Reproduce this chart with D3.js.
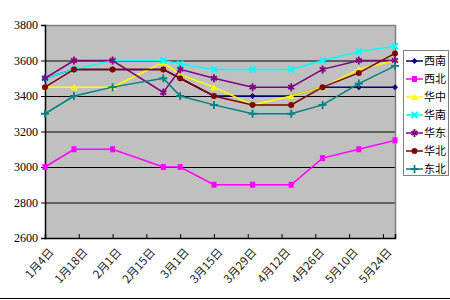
<!DOCTYPE html>
<html><head><meta charset="utf-8">
<script src="https://cdn.jsdelivr.net/npm/d3@7"></script>
<style>body{margin:0;background:#fff}svg{display:block}</style>
</head><body>
<svg id="c" width="450" height="300"></svg>
<script>
const dates = ["2007-01-04","2007-01-16","2007-02-01","2007-02-22","2007-03-01","2007-03-15","2007-03-31","2007-04-16","2007-04-29","2007-05-14","2007-05-29"];
const tickDates = ["2007-01-04","2007-01-18","2007-02-01","2007-02-15","2007-03-01","2007-03-15","2007-03-29","2007-04-12","2007-04-26","2007-05-10","2007-05-24"];
const tickLabels = ["1月4日","1月18日","2月1日","2月15日","3月1日","3月15日","3月29日","4月12日","4月26日","5月10日","5月24日"];
const yTicks = [2600,2800,3000,3200,3400,3600,3800];
const seriesNames = ["西南","西北","华中","华南","华东","华北","东北"];
const xinan  = [3500,3550,3550,3550,3500,3400,3400,3400,3450,3450,3450];
const xibei  = [3000,3100,3100,3000,3000,2900,2900,2900,3050,3100,3150];
const huazhong=[3450,3450,3450,3590,3520,3450,3350,3400,3450,3550,3600];
const huanan = [3500,3550,3600,3600,3580,3550,3550,3550,3600,3650,3680];
const huadong= [3500,3600,3600,3420,3550,3500,3450,3450,3550,3600,3600];
const huabei = [3450,3550,3550,3550,3500,3400,3350,3350,3450,3530,3640];
const dongbei= [3300,3400,3450,3500,3400,3350,3300,3300,3350,3470,3570];
const seriesValues = [xinan,xibei,huazhong,huanan,huadong,huabei,dongbei];
const colors = ["#000080","#FF00FF","#FFFF00","#00FFFF","#800080","#800000","#008080"];
const markers = ["diamond","square","triangle","x","star","circle","plus"];

const parse = d3.timeParse("%Y-%m-%d");
const svg = d3.select("#c");
const L=45, R=395, T=25, B=238;
const x = d3.scaleTime().domain([parse(dates[0]), parse(dates[dates.length-1])]).range([L,R]);
const y = d3.scaleLinear().domain([2600,3800]).range([B,T]);

svg.append("rect").attr("x",L).attr("y",T).attr("width",R-L).attr("height",B-T).attr("fill","#C0C0C0");
svg.append("g").selectAll("line").data(yTicks.slice(1,-1)).join("line")
  .attr("x1",L).attr("x2",R).attr("y1",d=>y(d)+0.5).attr("y2",d=>y(d)+0.5)
  .attr("stroke","#000").attr("stroke-width",1);
svg.append("path").attr("d",`M${L},${T+0.5}H${R+0.5}V${B}`).attr("fill","none").attr("stroke","#808080").attr("stroke-width",1.5);

const ya = svg.append("g").attr("transform",`translate(${L},0)`)
  .call(d3.axisLeft(y).tickValues(yTicks).tickSize(4).tickFormat(d3.format("d")));
ya.select(".domain").attr("stroke","#000").attr("stroke-width",1.5);
ya.selectAll("text").attr("font-family","Liberation Serif").attr("font-size",12).attr("fill","#000").attr("x",-7);

const xa = svg.append("g").attr("transform",`translate(0,${B})`)
  .call(d3.axisBottom(x).tickValues(tickDates.map(parse)).tickSize(-4).tickFormat((d,i)=>tickLabels[i]));
xa.select(".domain").attr("stroke","#000").attr("stroke-width",1.5);
xa.selectAll("text").attr("font-family","Noto Sans CJK SC").attr("font-size",11.5).attr("fill","#222")
  .attr("text-anchor","end").attr("transform","translate(6,12) rotate(-48)").attr("dy","0.35em").attr("y",0).attr("x",0);

function marker(g, type, color){
  const s=3;
  if(type==="diamond"){g.append("path").attr("d",`M0,${-s}L${s},0L0,${s}L${-s},0Z`).attr("fill",color);}
  else if(type==="square"){g.append("rect").attr("x",-2.5).attr("y",-3).attr("width",5).attr("height",6).attr("fill",color);}
  else if(type==="triangle"){g.append("path").attr("d",`M0,${-s-0.5}L${s+0.5},${s}L${-s-0.5},${s}Z`).attr("fill",color);}
  else if(type==="x"){g.append("path").attr("d",`M-3,-3L3,3M-3,3L3,-3`).attr("stroke",color).attr("stroke-width",2);}
  else if(type==="star"){g.append("path").attr("d",`M0,-4V4M-3,-2L3,2M-3,2L3,-2`).attr("stroke",color).attr("stroke-width",1.8);}
  else if(type==="circle"){g.append("circle").attr("r",3).attr("fill",color);}
  else if(type==="plus"){g.append("path").attr("d",`M0,-4V4M-4,0H4`).attr("stroke",color).attr("stroke-width",1.8);}
}

const line = d3.line().x((d,i)=>x(parse(dates[i]))).y(d=>y(d));
seriesValues.forEach((vals,si)=>{
  const g = svg.append("g");
  g.append("path").attr("d",line(vals)).attr("fill","none").attr("stroke",colors[si]).attr("stroke-width",1.5);
  vals.forEach((v,i)=>{
    const m = g.append("g").attr("transform",`translate(${x(parse(dates[i]))},${y(v)})`);
    marker(m, markers[si], colors[si]);
  });
});

const lg = svg.append("g");
lg.append("rect").attr("x",403.5).attr("y",50.5).attr("width",45).attr("height",125).attr("fill","#fff").attr("stroke","#808080").attr("stroke-width",1);
seriesNames.forEach((n,i)=>{
  const yy = 61 + i*18;
  const g = lg.append("g");
  g.append("line").attr("x1",406).attr("x2",423).attr("y1",yy).attr("y2",yy).attr("stroke",colors[i]).attr("stroke-width",1.5);
  const m = g.append("g").attr("transform",`translate(414.5,${yy})`);
  marker(m, markers[i], colors[i]);
  g.append("text").attr("x",424).attr("y",yy).attr("dy","0.35em").attr("font-family","Noto Sans CJK SC").attr("font-size",11).attr("fill","#000").text(n);
});
svg.append("line").attr("x1",0).attr("x2",450).attr("y1",298.5).attr("y2",298.5).attr("stroke","#000").attr("stroke-width",1);
</script>
</body></html>
